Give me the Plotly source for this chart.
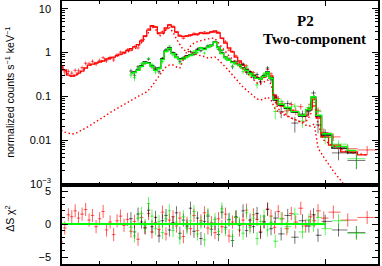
import numpy as np
import plotly.graph_objects as go

# ---------------- data ----------------
red_energy = [0.303, 0.311, 0.319, 0.327, 0.335, 0.343, 0.352, 0.361, 0.370, 0.379,
              0.389, 0.399, 0.409, 0.419, 0.430, 0.441, 0.452, 0.463, 0.475, 0.487,
              0.499, 0.512, 0.525, 0.538, 0.552, 0.566, 0.580, 0.595, 0.610, 0.625,
              0.641, 0.657, 0.674, 0.691, 0.708, 0.726, 0.745, 0.764, 0.783, 0.803,
              0.823, 0.844, 0.865, 0.887, 0.910, 0.933, 0.956, 0.981, 1.006, 1.031,
              1.057, 1.084, 1.112, 1.140, 1.169, 1.198, 1.229, 1.260, 1.292, 1.325,
              1.358, 1.393, 1.43, 1.47, 1.52, 1.57, 1.62, 1.68, 1.74, 1.80,
              1.85, 1.90, 1.98, 2.12, 2.35, 2.70]
red_model = [0.467, 0.399, 0.306, 0.291, 0.306, 0.340, 0.378, 0.443, 0.518, 0.546,
             0.576, 0.607, 0.640, 0.711, 0.749, 0.789, 0.854, 0.924, 1.00, 1.11,
             1.23, 1.34, 1.52, 1.83, 2.38, 3.26, 4.13, 3.82, 2.79, 2.79,
             3.63, 4.25, 3.82, 2.94, 2.38, 2.32, 2.38, 2.51, 2.58, 2.65,
             2.79, 2.72, 2.79, 2.94, 3.10, 2.79, 2.14, 1.65, 1.27, 1.03,
             0.789, 0.640, 0.518, 0.420, 0.359, 0.306, 0.262, 0.248, 0.276, 0.340,
             0.291, 0.107, 0.0667, 0.060, 0.054, 0.0487, 0.0438, 0.0374, 0.0374, 0.054,
             0.0868, 0.032, 0.0118, 0.0077, 0.0054, 0.0046]
red_soft = [0.443, 0.388, 0.323, 0.276, 0.291, 0.323, 0.378, 0.431, 0.492, 0.532,
            0.576, 0.607, 0.640, 0.674, 0.711, 0.749, 0.832, 0.877, 0.949, 1.027,
            1.11, 1.20, 1.37, 1.65, 2.14, 2.94, 3.82, 3.44, 2.38, 2.51,
            3.26, 3.63, 2.94, 2.03, 1.48, 1.14, 1.08, 1.03, 0.949, 0.877,
            0.854, 0.810, 0.749, 0.769, 0.789, 0.674, 0.576, 0.467, 0.378, 0.306,
            0.248, 0.201, 0.163, 0.139, 0.119, 0.1016, 0.0868, 0.0823, 0.0868, 0.0964,
            0.0823, 0.0541, 0.0438, 0.0394, 0.0355, 0.032, 0.0288, 0.0259, 0.0221, 0.0210,
            0.0233, 0.0066, 0.0041, 0.00197, 0.00075, 0.0002]
red_hard = [0.0170, 0.0153, 0.0145, 0.0138, 0.0141, 0.0153, 0.0170, 0.0189, 0.0210, 0.0233,
            0.0266, 0.0303, 0.0337, 0.0374, 0.0427, 0.0474, 0.0527, 0.060, 0.0667, 0.0741,
            0.0823, 0.0914, 0.1016, 0.110, 0.119, 0.139, 0.172, 0.224, 0.306, 0.378,
            0.467, 0.518, 0.518, 0.467, 0.443, 0.674, 1.08, 1.41, 1.65, 1.78,
            1.88, 1.93, 2.03, 2.14, 2.09, 1.65, 1.27, 1.03, 0.832, 0.711,
            0.607, 0.505, 0.420, 0.340, 0.283, 0.236, 0.201, 0.191, 0.212, 0.236,
            0.191, 0.0823, 0.0513, 0.0438, 0.0374, 0.032, 0.0288, 0.0259, 0.0259, 0.0374,
            0.0741, 0.0233, 0.01005, 0.00733, 0.00535, 0.00457]
red_frac = [0.16, 0.16, 0.15, 0.15, 0.14, 0.14, 0.13, 0.13, 0.12, 0.12,
            0.11, 0.11, 0.10, 0.10, 0.10, 0.09, 0.09, 0.09, 0.08, 0.08,
            0.07, 0.07, 0.07, 0.06, 0.05, 0.04, 0.04, 0.04, 0.05, 0.05,
            0.04, 0.04, 0.04, 0.05, 0.05, 0.05, 0.05, 0.05, 0.05, 0.05,
            0.05, 0.05, 0.05, 0.05, 0.05, 0.05, 0.05, 0.06,
            0.06, 0.07, 0.07, 0.08, 0.08, 0.09, 0.09, 0.10, 0.10, 0.10, 0.10, 0.09, 0.10,
            0.15, 0.18, 0.19, 0.20, 0.21, 0.22, 0.23, 0.23, 0.20, 0.16, 0.25,
            0.30, 0.30, 0.30, 0.30]
red_resid = [-2.7, -0.6, 1.4, 1.1, 2.0, 0.9, 1.5, 2.2, 0.6, 1.3,
             -0.4, 0.8, 1.9, -0.9, 0.3, -1.6, 0.5, 1.2, -0.2, 0.7,
             -1.1, 0.4, -2.3, 1.0, -0.5, 1.6, -1.2, 0.2, -0.8, 1.8,
             -1.5, 0.6, 1.1, -0.3, 0.9, -1.9, 0.1, -0.7, 1.3, -1.0,
             0.5, 1.7, -0.6, 0.2, -1.3, 0.8, -0.4, 1.5, -1.8, 0.3,
             1.0, -0.9, 0.6, 2.1, -0.2, 1.4, 0.7, -1.1, 0.4, 2.3,
             1.2, -0.5, 1.9, 0.8, -0.7, 1.6, 0.3, 2.4, -0.3, 1.1,
             0.5, 2.0, 0.9, 1.8, 0.6, 1.0]

mos_energy = [0.499, 0.512, 0.525, 0.538, 0.552, 0.566, 0.580, 0.595, 0.610, 0.625,
              0.641, 0.657, 0.674, 0.691, 0.708, 0.726, 0.745, 0.764, 0.783, 0.803,
              0.823, 0.844, 0.865, 0.887, 0.910, 0.933, 0.956, 0.981, 1.006, 1.031,
              1.057, 1.084, 1.112, 1.140, 1.169, 1.198, 1.229, 1.260, 1.292, 1.325,
              1.358, 1.40, 1.46, 1.53, 1.61, 1.70, 1.78, 1.84, 1.90, 2.00,
              2.20, 2.50]
black_model = [0.340, 0.359, 0.399, 0.492, 0.607, 0.591, 0.492, 0.399, 0.443, 0.711,
               1.082, 1.267, 0.974, 0.789, 0.711, 0.730, 0.832, 0.877, 0.974, 1.14,
               1.30, 1.20, 1.335, 1.483, 1.737, 1.335, 0.974, 0.789, 0.674, 0.607,
               0.561, 0.518, 0.443, 0.399, 0.340, 0.291, 0.262, 0.255, 0.291, 0.359,
               0.262, 0.0823, 0.0633, 0.0541, 0.0438, 0.0355, 0.0487, 0.0964, 0.0355, 0.0131,
               0.0066, 0.0051]
green_model = [0.330, 0.350, 0.390, 0.480, 0.590, 0.575, 0.480, 0.390, 0.430, 0.690,
               1.05, 1.23, 0.95, 0.77, 0.69, 0.71, 0.81, 0.85, 0.95, 1.11,
               1.27, 1.17, 1.30, 1.45, 1.70, 1.30, 0.95, 0.77, 0.66, 0.59,
               0.55, 0.505, 0.432, 0.39, 0.332, 0.284, 0.256, 0.249, 0.284, 0.350,
               0.256, 0.085, 0.066, 0.056, 0.045, 0.037, 0.050, 0.098, 0.037, 0.0140,
               0.0072, 0.0058]
mos_frac = [0.14, 0.13, 0.12, 0.10, 0.09, 0.09, 0.10, 0.11, 0.10, 0.08,
            0.07, 0.07, 0.08, 0.08, 0.08, 0.08, 0.08, 0.08, 0.07, 0.07,
            0.07, 0.07, 0.07, 0.06, 0.06, 0.07, 0.08, 0.08,
            0.09, 0.09, 0.10, 0.10, 0.11, 0.11, 0.12, 0.13, 0.13, 0.13, 0.12, 0.11, 0.13,
            0.18, 0.20, 0.21, 0.22, 0.22, 0.20, 0.17, 0.22, 0.25, 0.25, 0.25]
black_resid = [0.8, -1.2, 1.5, 0.3, -0.6, 2.1, -0.4, 1.0, -1.8, 0.5,
               1.3, -0.9, 0.2, 1.7, -1.4, 0.6, -0.3, 2.4, -1.1, 0.9,
               -2.2, 0.4, 1.2, -0.8, 0.1, -1.6, 1.8, -0.5, 0.7, -2.5,
               1.1, -0.2, 2.0, -1.0, 0.6, -0.4, 1.6, -1.3, 0.3, 2.2,
               -0.7, 0.9, -1.5, 1.3, -2.0, 0.5, -0.3, 1.4, -1.7, 0.4,
               -0.9, -1.3]
green_resid = [-0.5, -1.8, 0.9, 1.6, -0.2, 3.1, 1.2, -0.7, 0.4, -1.3,
               0.8, 2.0, -1.0, 0.3, -2.1, 1.1, -0.6, 0.5, 1.9, -1.5,
               0.2, -2.4, 1.4, -0.3, 0.7, -1.1, 2.3, -0.8, 0.6, -1.9,
               1.0, 0.1, -1.4, 1.7, -0.5, 0.9, -2.2, 0.4, 1.2, -0.9,
               0.3, -2.6, 0.8, -0.4, 1.5, -1.2, 0.6, -0.2, 1.0, -0.7,
               0.5, -1.4]

y_tickvals = [0.001, 0.01, 0.1, 1, 10]
y_ticktext = ["10<sup>\u22123</sup>", "0.01", "0.1", "1", "10"]
r_tickvals = [-5, 0, 5]
r_ticktext = ["\u22125", "0", "5"]
x_major = [1, 2]
x_minor = [0.4, 0.5, 0.6, 0.7, 0.8, 0.9, 3]
title_lines = ["P2", "Two-component"]

# ---------------- helpers ----------------
def bin_errors(E):
    E = np.asarray(E, dtype=float)
    mid = np.sqrt(E[:-1] * E[1:])
    lo = np.concatenate([[E[0] ** 2 / mid[0]], mid])
    hi = np.concatenate([mid, [E[-1] ** 2 / mid[-1]]])
    return hi - E, E - lo

fig = go.Figure()

def add_dataset(E, model, frac, resid, col_err, col_line):
    E = np.asarray(E); model = np.asarray(model)
    frac = np.asarray(frac); resid = np.asarray(resid)
    xp, xm = bin_errors(E)
    data = model * (1 + resid * frac)
    err = model * frac
    fig.add_trace(go.Scatter(
        x=E, y=data, mode="markers", xaxis="x", yaxis="y",
        marker=dict(size=1, color=col_err),
        error_x=dict(type="data", symmetric=False, array=xp, arrayminus=xm,
                     color=col_err, thickness=1, width=0),
        error_y=dict(type="data", array=err, color=col_err, thickness=1, width=0),
        showlegend=False, hoverinfo="skip"))
    fig.add_trace(go.Scatter(
        x=E, y=model, mode="lines", line=dict(color=col_line, width=1.3, shape="hvh"),
        xaxis="x", yaxis="y", showlegend=False, hoverinfo="skip"))
    fig.add_trace(go.Scatter(
        x=E, y=resid, mode="markers", xaxis="x2", yaxis="y2",
        marker=dict(size=1, color=col_err),
        error_x=dict(type="data", symmetric=False, array=xp, arrayminus=xm,
                     color=col_err, thickness=1, width=0),
        error_y=dict(type="data", array=np.ones(len(E)), color=col_err, thickness=1, width=0),
        showlegend=False, hoverinfo="skip"))

add_dataset(red_energy, red_model, red_frac, red_resid, "rgba(255,30,30,0.7)", "#ff0000")
add_dataset(mos_energy, black_model, mos_frac, black_resid, "rgba(0,0,0,0.55)", "#000000")
add_dataset(mos_energy, green_model, mos_frac, green_resid, "rgba(0,235,0,0.6)", "#00ff00")

for comp in (red_soft, red_hard):
    fig.add_trace(go.Scatter(
        x=red_energy, y=comp, mode="lines",
        line=dict(color="#ff0000", width=1.4, dash="1.5px,2.5px"),
        xaxis="x", yaxis="y", showlegend=False, hoverinfo="skip"))

# zero line of the residual panel
fig.add_trace(go.Scatter(
    x=[red_energy[0], mos_energy[-3]], y=[0, 0], mode="lines",
    line=dict(color="#00ff00", width=2), xaxis="x2", yaxis="y2",
    showlegend=False, hoverinfo="skip"))

xr = [np.log10(0.3049), np.log10(2.917)]
sans = "Liberation Sans, Arial, sans-serif"
serif = "Liberation Serif, Times New Roman, serif"
font = dict(family=sans, size=11, color="black")
axcommon = dict(showline=True, linecolor="black", linewidth=1.5, mirror="ticks",
                ticks="inside", showgrid=False, zeroline=False, tickcolor="black",
                tickfont=font, automargin=False)
split = 0.302

def ann(text, x, y, fam, size, angle=0):
    return dict(text=text, xref="paper", yref="paper", x=x, y=y, textangle=angle,
                xanchor="center", yanchor="middle", showarrow=False,
                font=dict(family=fam, size=size, color="black"))

fig.update_layout(
    width=382, height=266,
    margin=dict(l=62, r=4, t=1, b=2, autoexpand=False),
    paper_bgcolor="white", plot_bgcolor="white",
    xaxis=dict(type="log", range=xr, domain=[0, 1], anchor="y",
               showticklabels=False, tickvals=x_major, ticklen=5, tickwidth=1,
               minor=dict(tickvals=x_minor, ticklen=3, ticks="inside", tickcolor="black"),
               **axcommon),
    yaxis=dict(type="log", range=[-3.014, 1.176], domain=[split, 1], anchor="x",
               tickvals=y_tickvals, ticktext=y_ticktext, ticklen=6, tickwidth=1,
               ticklabelstandoff=7,
               minor=dict(dtick="D1", ticklen=3, ticks="inside", tickcolor="black"),
               **axcommon),
    xaxis2=dict(type="log", range=xr, domain=[0, 1], anchor="y2", matches="x",
                showticklabels=False, tickvals=x_major, ticklen=5, tickwidth=1,
                minor=dict(tickvals=x_minor, ticklen=3, ticks="inside", tickcolor="black"),
                **axcommon),
    yaxis2=dict(range=[-6.06, 5.98], domain=[0, split], anchor="x2",
                tickvals=r_tickvals, ticktext=r_ticktext, ticklen=6, tickwidth=1,
                ticklabelstandoff=7,
                minor=dict(dtick=1, ticklen=3, ticks="inside", tickcolor="black"),
                **axcommon),
    annotations=[
        ann("normalized counts s<sup>\u22121</sup> keV<sup>\u22121</sup>",
            -0.165, 0.654, sans, 10.5, -90),
        ann("\u0394S \u03c7<sup>2</sup>", -0.165, 0.175, sans, 10.5, -90),
        ann("<b>" + title_lines[0] + "</b>", 0.772, 0.924, serif, 15),
        ann("<b>" + title_lines[1] + "</b>", 0.80, 0.855, serif, 15),
    ],
)

fig.write_html("out.html", config={"displayModeBar": False},
               post_script="document.body.style.margin='0';document.body.style.overflow='hidden';")
